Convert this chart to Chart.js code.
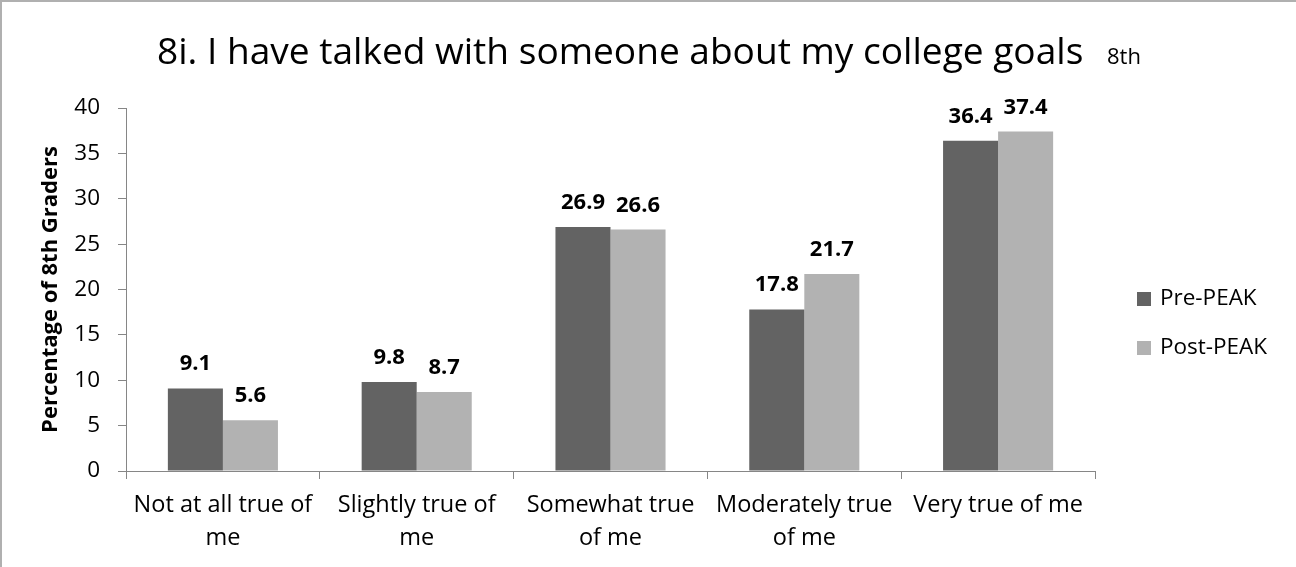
<!DOCTYPE html>
<html>
<head>
<meta charset="utf-8">
<script src="https://cdn.jsdelivr.net/npm/chart.js@4"></script>
<style>
    body { margin: 0; background: #fff; }
    #wrap { position: relative; width: 1296px; height: 567px; }
    #frame { position: absolute; left: 0; top: 0; right: 0; bottom: 0;
             border-top: 2px solid #b0b0b0; border-left: 2px solid #b0b0b0; pointer-events: none; }
</style>
</head>
<body>
<div id="wrap">
    <canvas id="peakChart" width="1296" height="567"></canvas>
    <div id="frame"></div>
</div>
<script>
const categories = [
    ['Not at all true of', 'me'],
    ['Slightly true of', 'me'],
    ['Somewhat true', 'of me'],
    ['Moderately true', 'of me'],
    ['Very true of me']
];
const seriesNames = ['Pre-PEAK', 'Post-PEAK'];
const preValues = [9.1, 9.8, 26.9, 17.8, 36.4];
const postValues = [5.6, 8.7, 26.6, 21.7, 37.4];
const titleText = '8i. I have talked with someone about my college goals';
const titleNote = '8th';
const yTitle = 'Percentage of 8th Graders';

const FONT = "'Open Sans', 'Noto Sans', sans-serif";
const axisGray = '#868686';

// value labels above each bar
const valueLabels = {
    id: 'valueLabels',
    afterDatasetsDraw(chart) {
        const ctx = chart.ctx;
        ctx.save();
        ctx.font = 'bold 22px ' + FONT;
        ctx.fillStyle = '#000';
        ctx.textAlign = 'center';
        ctx.textBaseline = 'alphabetic';
        chart.data.datasets.forEach((ds, i) => {
            chart.getDatasetMeta(i).data.forEach((bar, j) => {
                ctx.fillText(ds.data[j].toFixed(1), bar.x, bar.y - 18);
            });
        });
        ctx.restore();
    }
};

// title with the small "8th" note after it
const titleDraw = {
    id: 'titleDraw',
    afterDraw(chart) {
        const ctx = chart.ctx;
        ctx.save();
        ctx.fillStyle = '#000';
        ctx.textBaseline = 'alphabetic';
        ctx.textAlign = 'left';
        ctx.font = '40px ' + FONT;
        let w = ctx.measureText(titleText).width;
        let size = 40 * 927 / w;
        ctx.font = size.toFixed(1) + 'px ' + FONT;
        ctx.fillText(titleText, 157, 64);
        ctx.font = '22px ' + FONT;
        ctx.fillText(titleNote, 1107, 64);
        ctx.restore();
    }
};

// legend on the right
const sideLegend = {
    id: 'sideLegend',
    afterDraw(chart) {
        const ctx = chart.ctx;
        ctx.save();
        ctx.font = '22.5px ' + FONT;
        ctx.textBaseline = 'middle';
        ctx.textAlign = 'left';
        chart.data.datasets.forEach((ds, i) => {
            const y = 299 + i * 49;
            ctx.fillStyle = ds.backgroundColor;
            ctx.fillRect(1137, y - 7, 14, 14);
            ctx.fillStyle = '#000';
            ctx.fillText(ds.label, 1160, y);
        });
        ctx.restore();
    }
};

const ctx = document.getElementById('peakChart').getContext('2d');

const peakChart = new Chart(ctx, {
    type: 'bar',
    data: {
        labels: categories,
        datasets: [
            { label: seriesNames[0], data: preValues, backgroundColor: '#636363' },
            { label: seriesNames[1], data: postValues, backgroundColor: '#b2b2b2' }
        ]
    },
    options: {
        responsive: false,
        animation: false,
        devicePixelRatio: 1,
        layout: { padding: { top: 108, right: 201, left: 0, bottom: 0 } },
        categoryPercentage: 0.568,
        barPercentage: 1,
        plugins: {
            legend: { display: false },
            title: { display: false },
            tooltip: { enabled: false }
        },
        scales: {
            x: {
                grid: { drawOnChartArea: false, tickLength: 8, color: axisGray, offset: true },
                border: { color: axisGray },
                ticks: {
                    color: '#000',
                    font: { family: FONT, size: 23.5, lineHeight: 1.4 },
                    padding: 10,
                    maxRotation: 0,
                    autoSkip: false
                },
                afterFit(scale) { scale.height = 96; }
            },
            y: {
                min: 0,
                max: 40,
                grid: { drawOnChartArea: false, tickLength: 8, color: axisGray },
                border: { color: axisGray },
                ticks: {
                    stepSize: 5,
                    color: '#000',
                    font: { family: FONT, size: 22.5 },
                    padding: 18
                },
                title: {
                    display: true,
                    text: yTitle,
                    color: '#000',
                    font: { family: FONT, size: 22, weight: 'bold' },
                    padding: { top: 38, bottom: 0 }
                },
                afterFit(scale) { scale.width = 126; }
            }
        }
    },
    plugins: [valueLabels, titleDraw, sideLegend]
});
</script>
</body>
</html>
